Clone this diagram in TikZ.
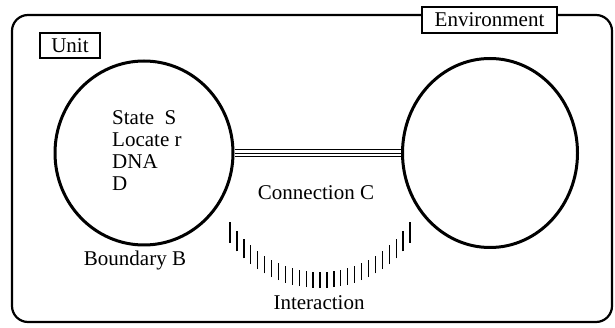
\documentclass[tikz,border=0pt]{standalone}
\usepackage{fontspec}
\setmainfont{Liberation Serif}
\usetikzlibrary{shapes,shapes.geometric}
\tikzstyle{lbl}=[draw=black,fill=white,line width=1.2pt,inner sep=0pt,font=\fontsize{21}{22}\selectfont]
\tikzstyle{txt}=[inner sep=0pt,font=\fontsize{21}{22}\selectfont]
\tikzstyle{bd}=[ellipse,draw=black,line width=3pt,inner sep=0pt]

\begin{document}
\begin{tikzpicture}[x=1pt,y=-1pt]
\useasboundingbox (0,0) rectangle (615,328);
\draw[line width=2.2pt,rounded corners=16pt] (12,15) rectangle (612,322);
\node[lbl,minimum width=135pt,minimum height=26pt] (env) at (489.5,20) {Environment};
\node[lbl,minimum width=60pt,minimum height=25pt] (unit) at (70,45.5) {Unit};
\node[bd,minimum width=178pt,minimum height=184pt] (U) at (144,153) {};
\node[bd,minimum width=175pt,minimum height=189pt] (E) at (490,153) {};
\draw[line width=1pt,double distance=6pt] (U.east) -- (E.west);
\draw[line width=.8pt] (U.east) -- (E.west);
\node[txt,anchor=north west,align=left] (st) at (112,110) {State~~S\\Locate r\\DNA\\D};
\node[txt] (conn) at (316,193) {Connection C};
\node[txt] (bnd) at (135,260) {Boundary B};
\node[txt] (intr) at (319,303) {Interaction};
\foreach \i in {0,...,26}{
  \pgfmathsetmacro\xx{230+\i*180/26}
  \pgfmathsetmacro\yb{175.5+sqrt(112.5^2-(\xx-320)^2)}
  \pgfmathsetmacro\ll{16+5*((\xx-320)/90)^2}
  \draw[line width=1.3pt] (\xx,\yb) -- (\xx,\yb-\ll);
}
\end{tikzpicture}
\end{document}
